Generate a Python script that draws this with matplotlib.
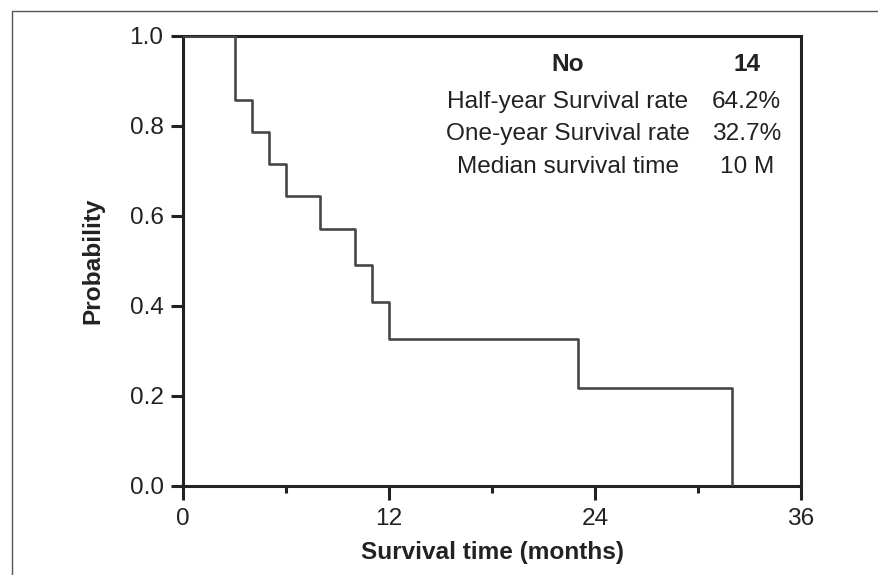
import matplotlib
matplotlib.use('Agg')
import matplotlib.pyplot as plt
from matplotlib.patches import Rectangle

# Kaplan-Meier curve (months, survival probability)
times = [0, 3, 4, 5, 6, 8, 10, 11, 12, 23, 32]
surv = [1.0, 0.857, 0.786, 0.714, 0.643, 0.571, 0.490, 0.408, 0.327, 0.218, 0.0]

x_major = [0, 12, 24, 36]
x_minor = [6, 18, 30]
y_ticks = [0.0, 0.2, 0.4, 0.6, 0.8, 1.0]

table_labels = ["No", "Half-year Survival rate", "One-year Survival rate", "Median survival time"]
table_values = ["14", "64.2%", "32.7%", "10 M"]

plt.rcParams['font.family'] = ['Liberation Sans', 'DejaVu Sans']
txt = '#222222'
fs = 17.6

fig = plt.figure(figsize=(8.79, 5.75), dpi=100)
ax = fig.add_axes([0.2082, 0.1548, 0.7031, 0.7831])

ax.step(times, surv, where='post', color='#474747', lw=1.9, zorder=3)

ax.set_xlim(0, 36)
ax.set_ylim(0, 1.0)
ax.set_xticks(x_major)
ax.set_xticks(x_minor, minor=True)
ax.set_yticks(y_ticks)
ax.set_yticklabels([f"{v:.1f}" for v in y_ticks])

for s in ax.spines.values():
    s.set_linewidth(2.2)
    s.set_color(txt)
ax.tick_params(axis='x', which='major', length=10, width=2.2, color=txt, labelsize=fs, labelcolor=txt, pad=6)
ax.tick_params(axis='x', which='minor', length=5, width=2.2, color=txt)
ax.tick_params(axis='y', length=9, width=2.2, color=txt, labelsize=fs, labelcolor=txt, pad=5)

ax.set_xlabel("Survival time (months)", fontsize=fs, fontweight='bold', color=txt, labelpad=8)
ax.set_ylabel("Probability", fontsize=fs, fontweight='bold', color=txt, labelpad=18)

row_y = [0.921, 0.840, 0.769, 0.696]
for i, (lab, val) in enumerate(zip(table_labels, table_values)):
    w = 'bold' if i == 0 else 'normal'
    ax.text(0.623, row_y[i], lab, transform=ax.transAxes, ha='center', va='baseline',
            fontsize=fs, fontweight=w, color=txt)
    ax.text(0.912, row_y[i], val, transform=ax.transAxes, ha='center', va='baseline',
            fontsize=fs, fontweight=w, color=txt)

# outer frame (cropped panel border)
fig.patches.append(Rectangle((12.5 / 879, -0.1), 1.2, 1.1 - 10.7 / 575, transform=fig.transFigure,
                             fill=False, edgecolor='#555555', lw=1.0))

fig.savefig("out.png", dpi=100)
